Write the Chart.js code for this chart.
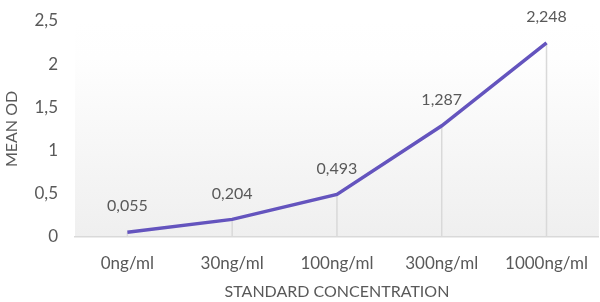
<!DOCTYPE html>
<html lang="en">
<head>
    <meta charset="UTF-8">
    <title>Mean OD - standard concentration</title>
    <script src="https://cdn.jsdelivr.net/npm/chart.js@4"></script>
    <style>
        html, body { margin: 0; padding: 0; background: #fff; overflow: hidden; }
        #wrap { width: 604px; height: 302px; }
    </style>
</head>
<body>
<div id="wrap"><canvas id="myChart" width="604" height="302"></canvas></div>

<script>
    // data
    var concentrations = ['0ng/ml', '30ng/ml', '100ng/ml', '300ng/ml', '1000ng/ml'];
    var meanOD = [0.055, 0.204, 0.493, 1.287, 2.248];
    var yTicks = [0, 0.5, 1, 1.5, 2, 2.5];

    var grey = '#595959';
    var font = 'Lato, "Open Sans", sans-serif';

    function comma(v) {
        return String(v).replace('.', ',');
    }

    // soft grey gradient behind the plot
    var bgPlugin = {
        id: 'bg',
        beforeDraw: function (chart) {
            var a = chart.chartArea, c = chart.ctx;
            var g = c.createLinearGradient(0, a.top, 0, a.bottom);
            g.addColorStop(0, '#ffffff');
            g.addColorStop(0.17, '#fefefe');
            g.addColorStop(1, '#efefef');
            c.save();
            c.fillStyle = g;
            c.fillRect(a.left, a.top, a.right - a.left, a.bottom - a.top);
            c.restore();
        }
    };

    // drop lines from each point down to the axis
    var dropPlugin = {
        id: 'drops',
        beforeDatasetsDraw: function (chart) {
            var c = chart.ctx, y0 = chart.scales.y.getPixelForValue(0);
            c.save();
            c.strokeStyle = '#d9d9d9';
            c.lineWidth = 1.5;
            chart.getDatasetMeta(0).data.forEach(function (p) {
                c.beginPath();
                c.moveTo(p.x, p.y);
                c.lineTo(p.x, y0);
                c.stroke();
            });
            c.restore();
        }
    };

    // value labels above the points
    var labelPlugin = {
        id: 'vals',
        afterDatasetsDraw: function (chart) {
            var c = chart.ctx;
            c.save();
            c.fillStyle = grey;
            c.font = '16px ' + font;
            c.textAlign = 'center';
            c.textBaseline = 'middle';
            chart.getDatasetMeta(0).data.forEach(function (p, i) {
                c.fillText(comma(meanOD[i]), p.x, p.y - 26);
            });
            c.restore();
        }
    };

    var ctx = document.getElementById('myChart').getContext('2d');
    var chart = new Chart(ctx, {
        type: 'line',
        data: {
            labels: concentrations,
            datasets: [{
                data: meanOD,
                borderColor: '#6454be',
                borderWidth: 3.5,
                pointRadius: 0,
                tension: 0,
                fill: false
            }]
        },
        options: {
            responsive: false,
            animation: false,
            layout: { padding: 0 },
            plugins: { legend: { display: false }, tooltip: { enabled: false } },
            scales: {
                x: {
                    offset: true,
                    afterFit: function (axis) { axis.height = 65; },
                    grid: { display: false, drawTicks: false },
                    border: { color: '#d9d9d9', width: 1.5 },
                    ticks: { color: grey, font: { family: font, size: 17 }, padding: 16, maxRotation: 0 },
                    title: { display: true, text: 'STANDARD CONCENTRATION', color: grey, font: { family: font, size: 16 }, padding: { top: 5, bottom: 1 } }
                },
                y: {
                    min: 0,
                    max: 2.5,
                    afterFit: function (axis) {
                        axis.width = 75;
                        axis.paddingTop = 21;
                        axis.paddingBottom = 0;
                    },
                    afterBuildTicks: function (axis) {
                        axis.ticks = yTicks.map(function (v) { return { value: v }; });
                    },
                    grid: { display: false, drawTicks: false },
                    border: { display: false },
                    ticks: {
                        color: grey, font: { family: font, size: 17 }, padding: 17,
                        callback: function (v) { return comma(v); }
                    },
                    title: { display: true, text: 'MEAN OD', color: grey, font: { family: font, size: 16 }, padding: { top: 2, bottom: 4 } }
                }
            }
        },
        plugins: [bgPlugin, dropPlugin, labelPlugin]
    });
</script>
</body>
</html>
